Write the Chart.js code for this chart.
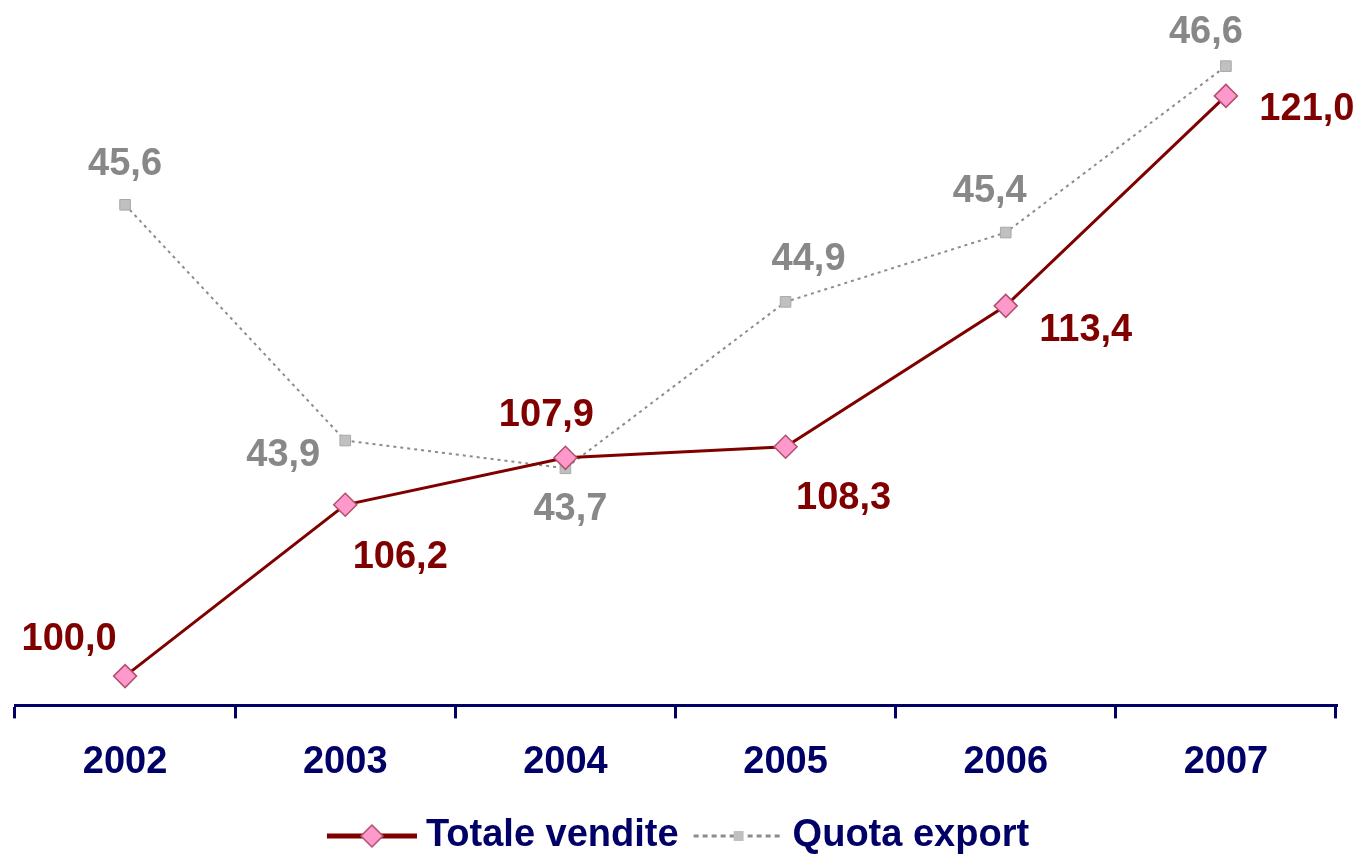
<!DOCTYPE html>
<html>
<head>
<meta charset="utf-8">
<script src="https://cdn.jsdelivr.net/npm/chart.js@4.4.1/dist/chart.umd.min.js"></script>
<style>
    html, body { margin: 0; padding: 0; background: #ffffff; }
    #wrap { width: 1361px; height: 855px; }
</style>
</head>
<body>
<div id="wrap"><canvas id="myLineChart"></canvas></div>
<script>
// Dati
const years = ['2002', '2003', '2004', '2005', '2006', '2007'];
const totaleVendite = [100.0, 106.2, 107.9, 108.3, 113.4, 121.0];
const quotaExport = [45.6, 43.9, 43.7, 44.9, 45.4, 46.6];

// posizione delle etichette rispetto al punto (dx, dy)
const offsetVendite = [[-56, -40], [55, 50], [-19, -45], [58, 49], [80, 22], [81, 11]];
const offsetExport = [[0, -43], [-62, 12], [5, 38], [23, -45], [-16, -44], [-20, -37]];

const navy = '#000066';
const fontFamily = "'Liberation Sans', Arial, sans-serif";

function fmt(v) {
    return v.toFixed(1).replace('.', ',');
}

// icone della legenda: linea + marcatore (15px vuoti a sinistra)
function makeIcon(type) {
    const c = document.createElement('canvas');
    c.width = 105;
    c.height = 26;
    const g = c.getContext('2d');
    g.translate(15, 0);
    if (type === 'vendite') {
        g.strokeStyle = '#800000';
        g.lineWidth = 5;
        g.beginPath(); g.moveTo(0, 13); g.lineTo(90, 13); g.stroke();
        g.fillStyle = '#ff99cc';
        g.strokeStyle = '#b0506e';
        g.lineWidth = 1.5;
        g.beginPath();
        g.moveTo(45, 2); g.lineTo(56, 13); g.lineTo(45, 24); g.lineTo(34, 13); g.closePath();
        g.fill(); g.stroke();
    } else {
        g.strokeStyle = '#8c8c8c';
        g.lineWidth = 3;
        g.setLineDash([5, 4]);
        g.beginPath(); g.moveTo(0, 13); g.lineTo(90, 13); g.stroke();
        g.setLineDash([]);
        g.fillStyle = '#c0c0c0';
        g.fillRect(40, 8, 10, 10);
    }
    return c;
}
const legendIcons = [makeIcon('vendite'), makeIcon('export')];

// etichette dei valori
const valueLabels = {
    id: 'valueLabels',
    afterDatasetsDraw(chart) {
        const ctx = chart.ctx;
        const size = 38;
        ctx.save();
        ctx.font = 'bold ' + size + 'px ' + fontFamily;
        ctx.textAlign = 'center';
        ctx.textBaseline = 'alphabetic';
        const sets = [
            { idx: 0, data: totaleVendite, off: offsetVendite, color: '#800000' },
            { idx: 1, data: quotaExport, off: offsetExport, color: '#888888' }
        ];
        sets.forEach(s => {
            const meta = chart.getDatasetMeta(s.idx);
            ctx.fillStyle = s.color;
            meta.data.forEach((pt, i) => {
                ctx.fillText(fmt(s.data[i]), pt.x + s.off[i][0], pt.y + s.off[i][1] + size * 0.358);
            });
        });
        ctx.restore();
    }
};

const ctx = document.getElementById('myLineChart').getContext('2d');
let myLineChart = new Chart(ctx, {
    type: 'line',
    data: {
        labels: years,
        datasets: [
            {
                label: 'Totale vendite',
                data: totaleVendite,
                yAxisID: 'y',
                borderColor: '#800000',
                borderWidth: 3,
                pointStyle: 'rectRot',
                pointRadius: 11.5,
                pointBackgroundColor: '#ff99cc',
                pointBorderColor: '#b0506e',
                pointBorderWidth: 1.5,
                tension: 0,
                clip: false,
                order: 1
            },
            {
                label: 'Quota export',
                data: quotaExport,
                yAxisID: 'y1',
                borderColor: '#8c8c8c',
                borderWidth: 2,
                borderDash: [3, 4],
                pointStyle: 'rect',
                pointRadius: 7.5,
                pointBackgroundColor: '#c0c0c0',
                pointBorderColor: '#a8a8a8',
                pointBorderWidth: 1,
                tension: 0,
                clip: false,
                order: 2
            }
        ]
    },
    options: {
        responsive: true,
        maintainAspectRatio: false,
        animation: false,
        layout: { autoPadding: false, padding: { top: 0, left: 15, right: 25, bottom: -10 } },
        scales: {
            x: {
                offset: true,
                border: { display: true, color: navy, width: 3 },
                grid: {
                    offset: true,
                    drawOnChartArea: false,
                    drawTicks: true,
                    tickLength: 13,
                    color: navy,
                    lineWidth: 3
                },
                ticks: {
                    color: navy,
                    padding: 21.5,
                    font: { family: fontFamily, size: 38, weight: 'bold' }
                }
            },
            y: { display: false, min: 98.94, max: 124.47 },
            y1: { display: false, min: 41.99, max: 47.077 }
        },
        plugins: {
            legend: {
                position: 'bottom',
                labels: {
                    color: navy,
                    usePointStyle: true,
                    pointStyleWidth: 85,
                    padding: 10,
                    font: { family: fontFamily, size: 38, weight: 'bold' },
                    generateLabels: function(chart) {
                        const items = Chart.defaults.plugins.legend.labels.generateLabels(chart);
                        items.forEach((it, i) => { it.pointStyle = legendIcons[i]; });
                        return items;
                    }
                }
            },
            tooltip: { enabled: false }
        }
    },
    plugins: [valueLabels]
});
</script>
</body>
</html>
